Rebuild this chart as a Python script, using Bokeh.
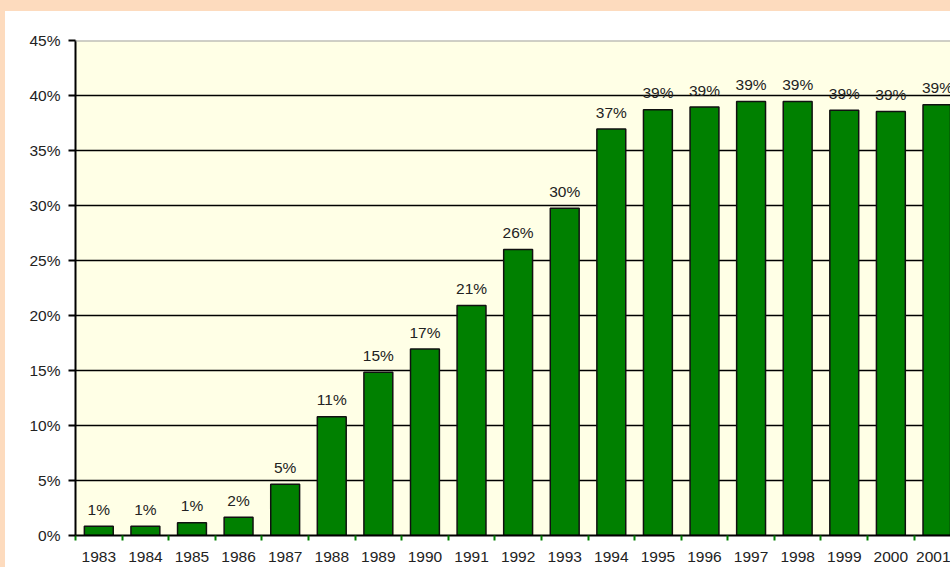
from bokeh.plotting import figure
from bokeh.models import ColumnDataSource, FixedTicker, PrintfTickFormatter, Span, Range1d, Div
from bokeh.layouts import column, row
from bokeh.embed import file_html
from bokeh.resources import INLINE
from bokeh.core.properties import value

years = [1983, 1984, 1985, 1986, 1987, 1988, 1989, 1990, 1991, 1992,
         1993, 1994, 1995, 1996, 1997, 1998, 1999, 2000, 2001]
shares = [0.85, 0.85, 1.15, 1.65, 4.65, 10.8, 14.85, 16.95, 20.9, 26.0,
          29.75, 36.95, 38.7, 38.95, 39.45, 39.45, 38.65, 38.55, 39.15]
labels = [f"{round(v):d}%" for v in shares]
y_ticks = [0, 5, 10, 15, 20, 25, 30, 35, 40, 45]

PEACH = "#FDDBBE"
FONT = "Liberation Sans"
FS = "15.5px"

src = ColumnDataSource(dict(x=years, top=shares, label=labels))

fig = figure(width=945, height=556, output_backend="svg", toolbar_location=None,
             x_range=Range1d(1982.5, 2001.28), y_range=Range1d(0, 45),
             min_border_left=70, min_border_right=0, min_border_top=29,
             min_border_bottom=32)
fig.border_fill_color = "white"
fig.background_fill_color = "#FFFFE6"
fig.outline_line_color = None

fig.vbar(x="x", top="top", width=0.62, bottom=0, source=src,
         fill_color="#008000", line_color="#111111", line_width=1.5)
fig.text(x="x", y="top", text="label", source=src, text_align="center",
         text_baseline="alphabetic", y_offset=-17, text_font=value(FONT),
         text_font_size=FS, text_color="#222222")

top_line = Span(location=45, dimension="width", line_color="#a0a0a0", line_width=2)
fig.add_layout(top_line)

# y axis
fig.yaxis.ticker = FixedTicker(ticks=y_ticks)
fig.yaxis.formatter = PrintfTickFormatter(format="%d%%")
fig.yaxis.axis_line_color = "#000000"
fig.yaxis.axis_line_width = 2
fig.yaxis.major_tick_line_color = "#000000"
fig.yaxis.major_tick_line_width = 2
fig.yaxis.major_tick_out = 7
fig.yaxis.major_tick_in = 0
fig.yaxis.minor_tick_line_color = None
fig.yaxis.major_label_standoff = 8
fig.yaxis.major_label_text_font = FONT
fig.yaxis.major_label_text_font_size = FS
fig.yaxis.major_label_text_color = "#222222"

# x axis
fig.xaxis.ticker = FixedTicker(ticks=years, minor_ticks=[y + 0.5 for y in [1982] + years])
fig.xaxis.major_label_overrides = {y: str(y) for y in years}
fig.xaxis.axis_line_color = "#000000"
fig.xaxis.axis_line_width = 2
fig.xaxis.major_tick_line_color = None
fig.xaxis.minor_tick_line_color = "#008000"
fig.xaxis.minor_tick_line_width = 2
fig.xaxis.minor_tick_out = 5
fig.xaxis.minor_tick_in = 0
fig.xaxis.major_label_standoff = 10
fig.xaxis.major_label_text_font = FONT
fig.xaxis.major_label_text_font_size = FS
fig.xaxis.major_label_text_color = "#222222"

fig.xgrid.grid_line_color = None
fig.ygrid.ticker = FixedTicker(ticks=y_ticks)
fig.ygrid.grid_line_color = "#000000"
fig.ygrid.grid_line_width = 1.5

top_band = Div(text="", width=950, height=11, margin=0,
               styles={"background-color": PEACH})
left_band = Div(text="", width=5, height=556, margin=0,
                styles={"background-color": PEACH})
p = column(top_band, row(left_band, fig, spacing=0), spacing=0)

open("out.html", "w").write(file_html(p, INLINE))
